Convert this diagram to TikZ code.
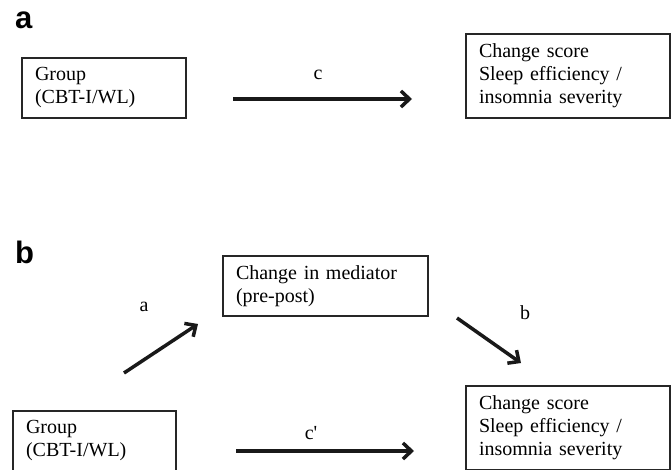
\documentclass[tikz,border=0pt]{standalone}
\usepackage{fontspec}
\setmainfont{Liberation Serif}
\newfontfamily\panelfont{Liberation Sans}
\usetikzlibrary{arrows.meta}
\begin{document}
\begin{tikzpicture}[x=1pt,y=-1pt,
  boxnode/.style={draw=black!85, line width=1.4pt, inner sep=0pt, align=left,
    font=\fontsize{20}{23}\selectfont},
  arrowline/.style={line width=3.5pt, draw=black!90, -{Straight Barb[length=8.5pt,width=16pt,line width=3.5pt]}},
  lbl/.style={font=\fontsize{20}{23}\selectfont, inner sep=0pt},
  panel/.style={font=\panelfont\bfseries\fontsize{31}{31}\selectfont, inner sep=0pt, anchor=base west}]
\useasboundingbox (0,0) rectangle (672,469);
\clip (0,0) rectangle (672,469);
% panel a
\node[panel] (pa) at (15,28) {a};
\node[boxnode, minimum width=164pt, minimum height=60pt, text width=138pt] (grpa) at (104,88) {Group\\(CBT-I/WL)};
\node[boxnode, minimum width=204pt, minimum height=84pt, text width=178pt] (outa) at (568,76) {Change score\\Sleep efficiency /\\insomnia severity};
\coordinate (cs) at (233,99);
\coordinate (ce) at (412,99);
\draw[arrowline] (cs) -- (ce);
\node[lbl] (lc) at (318,75) {c};
% panel b
\node[panel] (pb) at (15,263) {b};
\node[boxnode, minimum width=205pt, minimum height=60pt, text width=179pt] (med) at (325.5,286) {Change in mediator\\(pre-post)};
\node[boxnode, minimum width=163pt, minimum height=60pt, text width=137pt] (grpb) at (94.5,441) {Group\\(CBT-I/WL)};
\node[boxnode, minimum width=204pt, minimum height=84pt, text width=178pt] (outb) at (568,428) {Change score\\Sleep efficiency /\\insomnia severity};
\coordinate (as) at (124,373);
\coordinate (ae) at (198,324);
\draw[arrowline] (as) -- (ae);
\coordinate (bs) at (457,318);
\coordinate (be) at (521,363);
\draw[arrowline] (bs) -- (be);
\coordinate (cps) at (236,451);
\coordinate (cpe) at (414,451);
\draw[arrowline] (cps) -- (cpe);
\node[lbl] (la) at (144,307) {a};
\node[lbl] (lb) at (525,313) {b};
\node[lbl] (lcp) at (311,433) {c\textquotesingle};
\end{tikzpicture}
\end{document}
